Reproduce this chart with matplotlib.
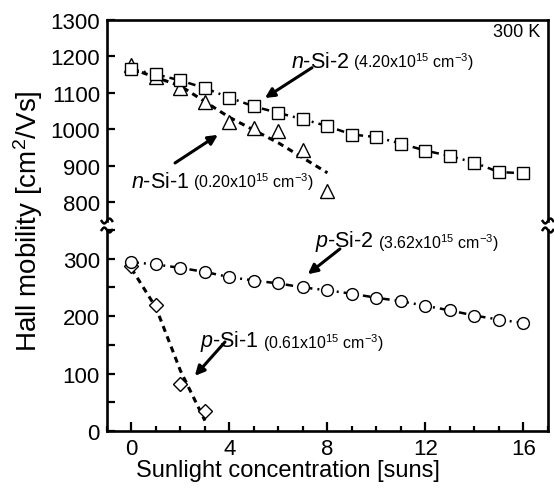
import numpy as np
import matplotlib
matplotlib.use("Agg")
import matplotlib.pyplot as plt
from matplotlib.ticker import MultipleLocator

plt.rcParams['font.family'] = ['Liberation Sans', 'DejaVu Sans']
plt.rcParams['mathtext.fontset'] = 'custom'
plt.rcParams['mathtext.rm'] = 'Liberation Sans'
plt.rcParams['mathtext.it'] = 'Liberation Sans:italic'

# sunlight concentration [suns]
suns_n2 = list(range(17))
suns_n1 = list(range(9))
suns_p2 = list(range(17))
suns_p1 = [0, 1, 2, 3]

# Hall mobility [cm2/Vs]
n_si_2 = [1164, 1150, 1133, 1112, 1086, 1062, 1044, 1027, 1008, 985, 978, 960, 941, 926, 908, 882, 879]
n_si_1 = [1175, 1143, 1112, 1075, 1020, 1004, 995, 943, 829]
p_si_2 = [294, 290, 284, 277, 268, 262, 257, 250, 245, 239, 232, 226, 218, 210, 201, 194, 188]
p_si_1 = [288, 220, 82, 34]

# fitted guide lines
fit_n1_x = [0, 2, 4, 6, 8]
fit_n1_y = [1165, 1118, 1032, 962, 880]
fit_p1_x = [0, 1, 2, 3]
fit_p1_y = [283, 215, 105, 18]

fig = plt.figure(figsize=(5.54, 4.89), dpi=100)
ax1 = fig.add_axes([0.193, 0.546, 0.796, 0.412])
ax2 = fig.add_axes([0.193, 0.1166, 0.796, 0.411])

mk = dict(color='k', mfc='white', mec='k', mew=1.0, zorder=3, clip_on=False)
dashdot = (0, (3, 2, 0.8, 2))
dashed = (0, (2, 1.6))

# top panel: n-type
ax1.plot(fit_n1_x, fit_n1_y, color='k', lw=2.2, ls=dashed, zorder=2)
ax1.plot(suns_n1, n_si_1, ls='none', marker='^', ms=9.5, **mk)
ax1.plot(suns_n2, n_si_2, ls=dashdot, lw=1.8, marker='s', ms=8.5, **mk)

# bottom panel: p-type
ax2.plot(fit_p1_x, fit_p1_y, color='k', lw=2.2, ls=dashed, zorder=2)
ax2.plot(suns_p1, p_si_1, ls='none', marker='D', ms=7.5, **mk)
ax2.plot(suns_p2, p_si_2, ls=dashdot, lw=1.8, marker='o', ms=8.5, **mk)

for ax in (ax1, ax2):
    ax.set_xlim(-1, 17)
    for s in ax.spines.values():
        s.set_linewidth(1.9)
    ax.tick_params(direction='in', width=1.6, labelsize=16, pad=5)
    ax.tick_params(which='minor', direction='in', width=1.6)

ax1.set_ylim(748, 1300)
ax1.spines['bottom'].set_visible(False)
ax1.set_yticks([800, 900, 1000, 1100, 1200, 1300])
ax1.tick_params(axis='x', bottom=False, labelbottom=False)
ax1.tick_params(axis='y', length=5.5, right=False)

ax2.set_ylim(0, 350)
ax2.spines['top'].set_visible(False)
ax2.set_yticks([0, 100, 200, 300])
ax2.yaxis.set_minor_locator(MultipleLocator(50))
ax2.set_xticks([0, 4, 8, 12, 16])
ax2.xaxis.set_minor_locator(MultipleLocator(1))
ax2.tick_params(axis='y', which='both', length=5.5, right=False)
ax2.tick_params(axis='x', which='major', length=6.5, top=False)
ax2.tick_params(axis='x', which='minor', length=3.5, top=False)

# break marks on the spines
t = np.linspace(-1, 1, 30)
for ax, y0 in ((ax1, 0.0), (ax2, 1.0)):
    for x0 in (0.0, 1.0):
        ax.plot(x0 + 0.012 * t, y0 + 0.012 * np.sin(np.pi * t) * (1 if y0 == 0 else -1),
                transform=ax.transAxes, color='k', lw=1.8, clip_on=False)

fig.text(0.05, 0.547, 'Hall mobility [cm$^2$/Vs]', rotation=90, ha='center', va='center', fontsize=20)
fig.text(0.52, 0.0245, 'Sunlight concentration [suns]', ha='center', va='baseline', fontsize=17)

ax1.text(0.982, 0.94, '300 K', transform=ax1.transAxes, ha='right', va='center', fontsize=13)

arrow = dict(arrowstyle='-|>', color='k', lw=2.2, mutation_scale=14, shrinkA=0, shrinkB=0)


def label(ax, x, y, name, conc):
    t1 = ax.text(x, y, name, ha='left', va='baseline', fontsize=15.5)
    ax.annotate(conc, xy=(1, 0), xycoords=t1, xytext=(3, 0), textcoords='offset points',
                ha='left', va='bottom', fontsize=11.5)


label(ax1, 6.5, 1170, r'$\mathit{n}$-Si-2', r'(4.20x10$^{15}$ cm$^{-3}$)')
ax1.annotate('', xy=(5.45, 1085), xytext=(7.37, 1168), arrowprops=arrow)
label(ax1, -0.02, 842, r'$\mathit{n}$-Si-1', r'(0.20x10$^{15}$ cm$^{-3}$)')
ax1.annotate('', xy=(3.53, 984), xytext=(1.78, 907), arrowprops=arrow)

label(ax2, 7.49, 322, r'$\mathit{p}$-Si-2', r'(3.62x10$^{15}$ cm$^{-3}$)')
ax2.annotate('', xy=(7.2, 273), xytext=(8.51, 317), arrowprops=arrow)
label(ax2, 2.8, 148, r'$\mathit{p}$-Si-1', r'(0.61x10$^{15}$ cm$^{-3}$)')
ax2.annotate('', xy=(2.59, 96), xytext=(3.82, 155), arrowprops=arrow)

fig.savefig('out.png', dpi=100)
